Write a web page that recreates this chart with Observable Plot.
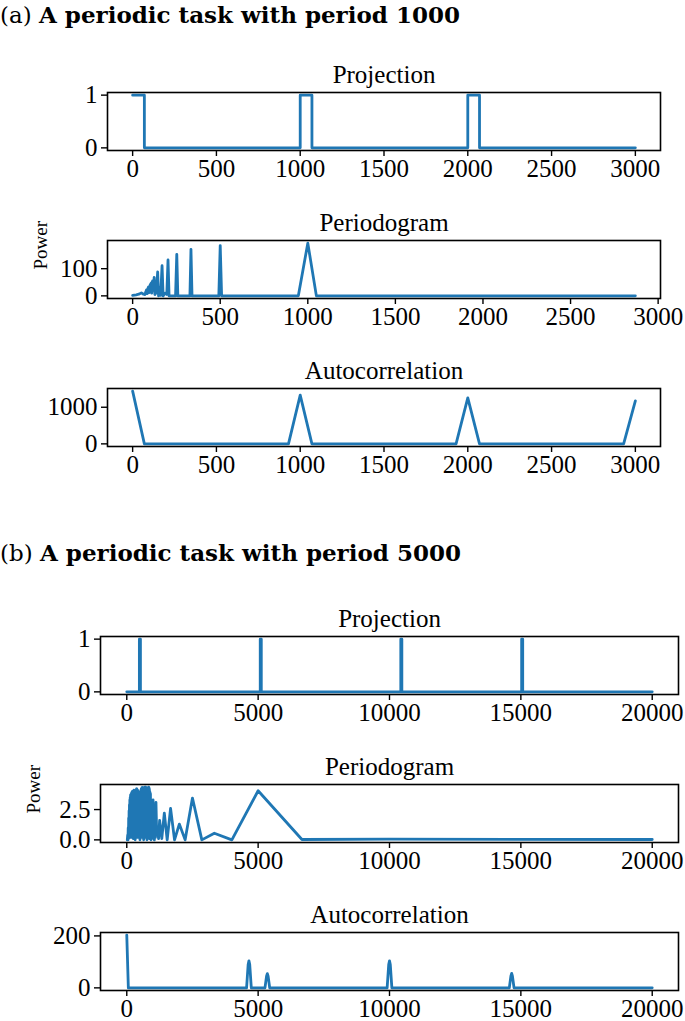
<!DOCTYPE html>
<html><head><meta charset="utf-8">
<script src="https://cdn.jsdelivr.net/npm/d3@7"></script>
<script src="https://cdn.jsdelivr.net/npm/@observablehq/plot@0.6"></script>
<style>
body{margin:0;background:#fff;}
#root{position:relative;width:685px;height:1021px;overflow:hidden;}
.hdr{position:absolute;left:0;white-space:nowrap;font-family:"DejaVu Serif",serif;font-size:23px;line-height:1;color:#000;}
.hdr .lab{font-weight:normal;}
.hdr b{font-weight:bold;}
.panel{position:absolute;left:0;}
</style></head><body><div id="root"></div>
<script>
// ---------- data ----------
const headerLabels = ["(a)", "(b)"];
const headerTexts = ["A periodic task with period 1000", "A periodic task with period 5000"];
const panelTitles = ["Projection", "Periodogram", "Autocorrelation"];
const yLabel = "Power";

// (a) period 1000
const projAx = [0, 70, 70, 1000, 1000, 1070, 1070, 2000, 2000, 2070, 2070, 3000];
const projAy = [1, 1, 0, 0, 1, 1, 0, 0, 1, 1, 0, 0];

const perAx = [0, 20, 35, 50, 62, 70, 75, 79, 83, 87, 91, 95, 100, 106, 109, 114, 118, 123, 127, 131, 135, 143, 148, 155, 160, 168, 174, 185, 195, 202, 208, 245, 252, 258, 327, 333, 339, 492, 500, 508, 946, 1000, 1049, 2870];
const perAy = [2, 4, 6, 11, 6, 5, 14, 22, 8, 27, 33, 12, 40, 47, 10, 55, 20, 68, 5, 30, 10, 88, 0, 30, 2, 111, 0, 10, 5, 132, 0, 0, 153, 0, 0, 171, 0, 0, 185, 0, 0, 194, 0, 0];

const acfAx = [0, 70, 930, 1000, 1070, 1930, 2000, 2070, 2930, 3000];
const acfAy = [1440, 0, 0, 1330, 0, 0, 1255, 0, 0, 1175];

// (b) period 5000
const projBx = [0, 480, 480, 520, 520, 5080, 5080, 5120, 5120, 10430, 10430, 10470, 10470, 15030, 15030, 15070, 15070, 20000];
const projBy = [0, 0, 1, 1, 0, 0, 1, 1, 0, 0, 1, 1, 0, 0, 1, 1, 0, 0];

const perBx = [20, 35, 45, 55, 65, 72, 80, 88, 95, 102, 110, 117, 124, 131, 138, 145, 152, 159, 166, 173, 180, 187, 194, 201, 208, 215, 222, 229, 236, 243, 250, 257, 264, 271, 278, 285, 292, 299, 306, 313, 320, 327, 334, 341, 348, 355, 362, 369, 376, 383, 390, 397, 404, 411, 418, 425, 432, 439, 446, 453, 460, 467, 474, 481, 488, 495, 502, 509, 516, 523, 530, 537, 544, 551, 558, 565, 572, 579, 586, 593, 600, 607, 614, 621, 628, 635, 642, 649, 656, 663, 670, 677, 684, 691, 698, 705, 712, 719, 726, 733, 740, 747, 754, 761, 768, 775, 782, 789, 796, 803, 810, 817, 824, 831, 838, 845, 852, 859, 866, 873, 880, 887, 894, 901, 908, 915, 922, 929, 936, 943, 950, 960, 970, 980, 990, 1000, 1015, 1030, 1050, 1070, 1090, 1111, 1140, 1176, 1210, 1250, 1333, 1429, 1538, 1667, 1818, 2000, 2222, 2500, 2857, 3333, 4000, 5000, 6667, 10000, 20000];
const perBy = [0.0, 0.4, 0.0, 1.0, 0.1, 1.8, 0.3, 2.4, 0.2, 2.9, 0.5, 3.3, 0.3, 3.5, 0.8, 3.7, 0.2, 3.6, 1.2, 3.8, 0.3, 3.9, 1.0, 3.8, 0.2, 4.0, 1.5, 3.9, 0.4, 3.8, 0.1, 3.9, 2.0, 4.1, 0.6, 4.0, 1.4, 4.0, 0.2, 2.5, 0.0, 3.6, 1.0, 3.9, 0.3, 4.1, 2.2, 4.2, 0.4, 4.2, 1.6, 4.0, 0.2, 4.1, 2.6, 4.0, 0.3, 3.9, 1.0, 3.8, 0.2, 3.5, 1.4, 3.2, 0.3, 3.1, 0.0, 3.4, 1.1, 4.0, 0.4, 4.1, 2.0, 4.2, 0.5, 4.2, 1.5, 4.3, 0.2, 4.3, 2.4, 4.2, 0.6, 4.3, 1.8, 4.0, 0.0, 2.8, 0.3, 4.1, 1.2, 4.3, 0.2, 4.35, 2.0, 4.3, 0.4, 4.35, 1.0, 4.2, 0.2, 3.6, 0.8, 3.0, 0.0, 2.6, 0.3, 3.8, 1.5, 4.2, 0.2, 4.3, 2.2, 4.35, 0.4, 4.3, 1.0, 4.2, 0.1, 4.0, 1.8, 3.9, 0.3, 3.8, 0.9, 3.2, 0.0, 2.5, 0.4, 2.2, 0.1, 2.6, 0.5, 3.0, 0.2, 3.3, 0.6, 2.8, 0.0, 2.9, 0.2, 3.1, 0.4, 0.8, 0.1, 1.6, 0.1, 2.2, 0.0, 2.6, 0.0, 1.3, 0.0, 3.45, 0.0, 0.55, 0.0, 4.05, 0.03, 0.06, 0.03];

const acfBx = [0, 60, 4560, 4620, 4650, 4680, 4740, 5260, 5320, 5350, 5380, 5440, 9910, 9970, 10000, 10030, 10090, 14560, 14620, 14650, 14680, 14740, 20000];
const acfBy = [203, 0, 0, 90, 104, 90, 0, 0, 45, 55, 45, 0, 0, 90, 104, 90, 0, 0, 45, 56, 45, 0, 0];

const xTicksA = [0, 500, 1000, 1500, 2000, 2500, 3000];
const xTicksB = [0, 5000, 10000, 15000, 20000];
const yTicksProj = [0, 1];
const yTicksPerA = [0, 100];
const yTicksAcfA = [0, 1000];
const yTicksPerB = [0, 2.5];
const yTicksAcfB = [0, 200];

// ---------- drawing ----------
const root = document.getElementById("root");
const BLUE = "#1f77b4";
const toRows = (xs, ys) => xs.map((x, i) => ({x, y: ys[i]}));
const pad = (lo, hi) => { const m = (hi - lo) * 0.05; return [lo - m, hi + m]; };

function header(i, top) {
  const d = document.createElement("div");
  d.className = "hdr";
  d.style.top = top + "px";
  d.innerHTML = `<span class="lab">${headerLabels[i]}</span> <b>${headerTexts[i]}</b>`;
  root.appendChild(d);
}

function panel(o) {
  const MT = 40, MB = 34, H = 58;
  const xmin = o.xmin !== undefined ? o.xmin : d3.min(o.xs);
  const svg = Plot.plot({
    width: 685,
    height: MT + H + MB,
    marginTop: MT, marginBottom: MB,
    marginLeft: o.left, marginRight: 685 - o.right,
    style: {fontFamily: "'Liberation Serif', serif", fontSize: "25px", background: "transparent", overflow: "visible", color: "black"},
    x: {domain: pad(xmin, d3.max(o.xs))},
    y: {domain: pad(Math.min(0, d3.min(o.ys)), d3.max(o.ys))},
    marks: [
      Plot.line(toRows(o.xs, o.ys), {x: "x", y: "y", stroke: BLUE, strokeWidth: 2.8}),
      Plot.frame({stroke: "black", strokeWidth: 1.6}),
      Plot.axisX({ticks: o.xTicks, tickSize: 6, tickPadding: 3, label: null, tickFormat: d3.format("d"), strokeWidth: 1.4}),
      Plot.axisY({ticks: o.yTicks, tickSize: 6, tickPadding: 4, label: null, tickFormat: o.yFormat || d3.format("d"), strokeWidth: 1.4}),
      Plot.text([o.title], {text: d => d, frameAnchor: "top", lineAnchor: "middle", dy: -18, fontSize: 25}),
      o.ylabel ? Plot.text([o.ylabel], {text: d => d, frameAnchor: "left", lineAnchor: "middle", dx: -67, rotate: -90, fontSize: 19}) : null
    ]
  });
  svg.classList.add("panel");
  svg.style.top = (o.frameTop - MT) + "px";
  root.appendChild(svg);
}

header(0, 3);
panel({left: 107, right: 660, frameTop: 92, xs: projAx, ys: projAy, xTicks: xTicksA, yTicks: yTicksProj, title: panelTitles[0]});
panel({left: 107, right: 660, frameTop: 240, xs: perAx, ys: perAy, xTicks: xTicksA, yTicks: yTicksPerA, title: panelTitles[1], ylabel: yLabel});
panel({left: 107, right: 660, frameTop: 388, xs: acfAx, ys: acfAy, xTicks: xTicksA, yTicks: yTicksAcfA, title: panelTitles[2]});

header(1, 541);
panel({left: 100, right: 678, frameTop: 636, xs: projBx, ys: projBy, xTicks: xTicksB, yTicks: yTicksProj, title: panelTitles[0]});
panel({left: 100, right: 678, frameTop: 784, xs: perBx, ys: perBy, xTicks: xTicksB, yTicks: yTicksPerB, yFormat: d3.format(".1f"), title: panelTitles[1], ylabel: yLabel, xmin: 0});
panel({left: 100, right: 678, frameTop: 932, xs: acfBx, ys: acfBy, xTicks: xTicksB, yTicks: yTicksAcfB, title: panelTitles[2]});
</script></body></html>
